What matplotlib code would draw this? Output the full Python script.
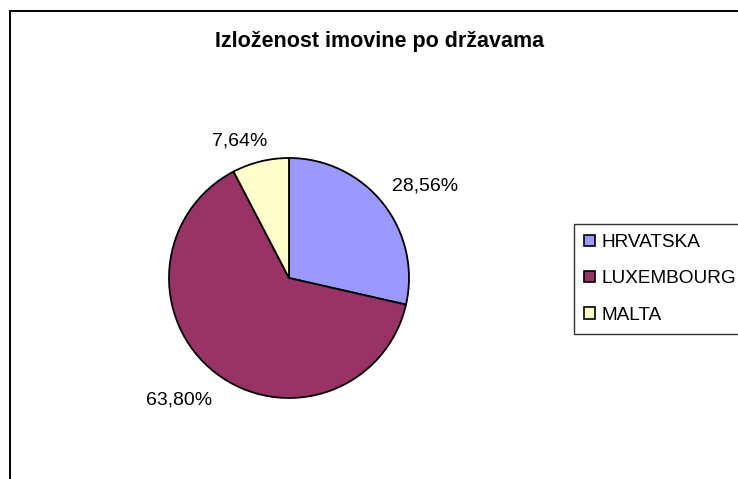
import matplotlib
matplotlib.use("Agg")
import matplotlib.pyplot as plt
import numpy as np
from matplotlib.patches import Rectangle, Patch

plt.rcParams['font.family'] = ['Liberation Sans', 'DejaVu Sans']

categories = ["HRVATSKA", "LUXEMBOURG", "MALTA"]
values = [28.56, 63.80, 7.64]
labels = ["28,56%", "63,80%", "7,64%"]
colors = ["#9999FF", "#993366", "#FFFFCC"]
title = "Izloženost imovine po državama"

# label placement (layout): distance from centre in radii, angle shift in degrees
label_dist = [1.37, 1.37, 1.21]
label_shift = [-4.7, -4.4, 6.0]

W, H = 738, 479
fig = plt.figure(figsize=(W / 100, H / 100), dpi=100)
fig.patch.set_facecolor("white")

# outer chart frame (extends beyond right/bottom edge)
fig.add_artist(Rectangle((10 / W, -0.05), 1.2, 1 + 0.05 - 11 / H, transform=fig.transFigure,
                         fill=False, edgecolor="black", linewidth=1.4))

cx, cy, r = 289, 278, 120
ax = fig.add_axes([(cx - r) / W, 1 - (cy + r) / H, 2 * r / W, 2 * r / H])
wedges, _ = ax.pie(values, colors=colors, startangle=90, counterclock=False,
                   wedgeprops=dict(edgecolor="black", linewidth=1.3))
ax.set_xlim(-1, 1)
ax.set_ylim(-1, 1)
ax.set_aspect("equal")
ax.axis("off")

for w, lab, d, s in zip(wedges, labels, label_dist, label_shift):
    ang = np.deg2rad((w.theta1 + w.theta2) / 2 + s)
    ax.text(d * np.cos(ang), d * np.sin(ang), lab, ha="center", va="center",
            fontsize=14, color="black", clip_on=False)

fig.text(380 / W, 1 - 42 / H, title, ha="center", va="center",
         fontsize=15.5, fontweight="bold")

handles = [Patch(facecolor=c, edgecolor="black", linewidth=1.2) for c in colors]
leg = fig.legend(handles, categories, loc="upper left",
                 bbox_to_anchor=(574 / W, 1 - 224 / H), frameon=True,
                 fontsize=13.7, handlelength=0.55, handleheight=0.55,
                 handletextpad=0.35, labelspacing=1.0, borderpad=0.55,
                 borderaxespad=0, fancybox=False)
leg.get_frame().set_edgecolor("black")
leg.get_frame().set_linewidth(1.0)

fig.savefig("out.png", dpi=100, facecolor="white")
